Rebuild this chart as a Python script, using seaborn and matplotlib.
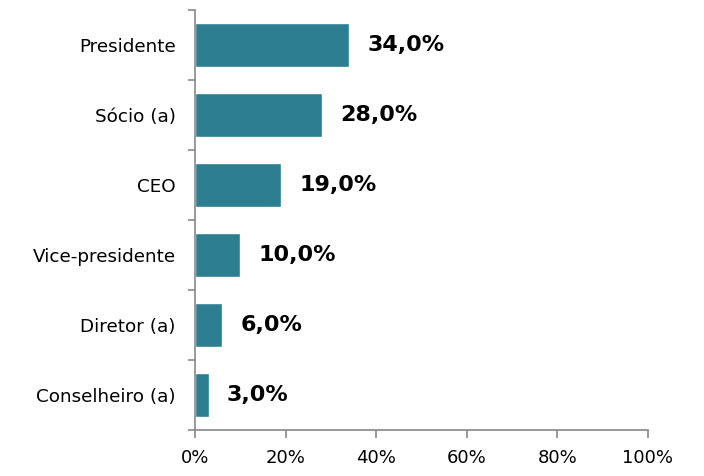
import matplotlib
matplotlib.use("Agg")
import matplotlib.pyplot as plt
import seaborn as sns
import pandas as pd
import numpy as np
from matplotlib.ticker import FixedLocator

categories = ["Presidente", "Sócio (a)", "CEO", "Vice-presidente", "Diretor (a)", "Conselheiro (a)"]
values = [34.0, 28.0, 19.0, 10.0, 6.0, 3.0]
labels = ["34,0%", "28,0%", "19,0%", "10,0%", "6,0%", "3,0%"]
xticks = [0, 20, 40, 60, 80, 100]
xticklabels = ["0%", "20%", "40%", "60%", "80%", "100%"]

sns.set_style("white")
plt.rcParams['font.family'] = ['DejaVu Sans']

df = pd.DataFrame({"cat": categories, "val": values})

fig = plt.figure(figsize=(7.04, 4.76), dpi=100)
ax = fig.add_axes([195/704, 1-430/476, (648-195)/704, 420/476])
sns.barplot(data=df, x="val", y="cat", orient="h", color="#2E7E92", saturation=1,
            width=0.62, ax=ax)

ax.set_xlim(0, 100)
ax.set_ylim(len(categories)-0.5, -0.5)
ax.set_xticks(xticks)
ax.set_xticklabels(xticklabels)
ax.set_xlabel("")
ax.set_ylabel("")
ax.tick_params(axis="y", which="major", length=0, labelsize=13.2, pad=14, labelcolor="black")
ax.yaxis.set_minor_locator(FixedLocator(np.arange(-0.5, len(categories), 1.0)))
ax.tick_params(axis="y", which="minor", length=5, color="#888888", width=1.2, direction="out", left=True)
ax.tick_params(axis="x", which="major", length=6, color="#888888", width=1.2, direction="out",
               bottom=True, labelsize=13, pad=8, labelcolor="black")

for s in ["top", "right"]:
    ax.spines[s].set_visible(False)
for s in ["left", "bottom"]:
    ax.spines[s].set_color("#888888")
    ax.spines[s].set_linewidth(1.2)

for i, (v, lab) in enumerate(zip(values, labels)):
    ax.annotate(lab, xy=(v, i), xytext=(13, 0), textcoords="offset points",
                va="center", ha="left", fontsize=16, fontweight="bold", color="black")

fig.savefig("out.png", dpi=100)
